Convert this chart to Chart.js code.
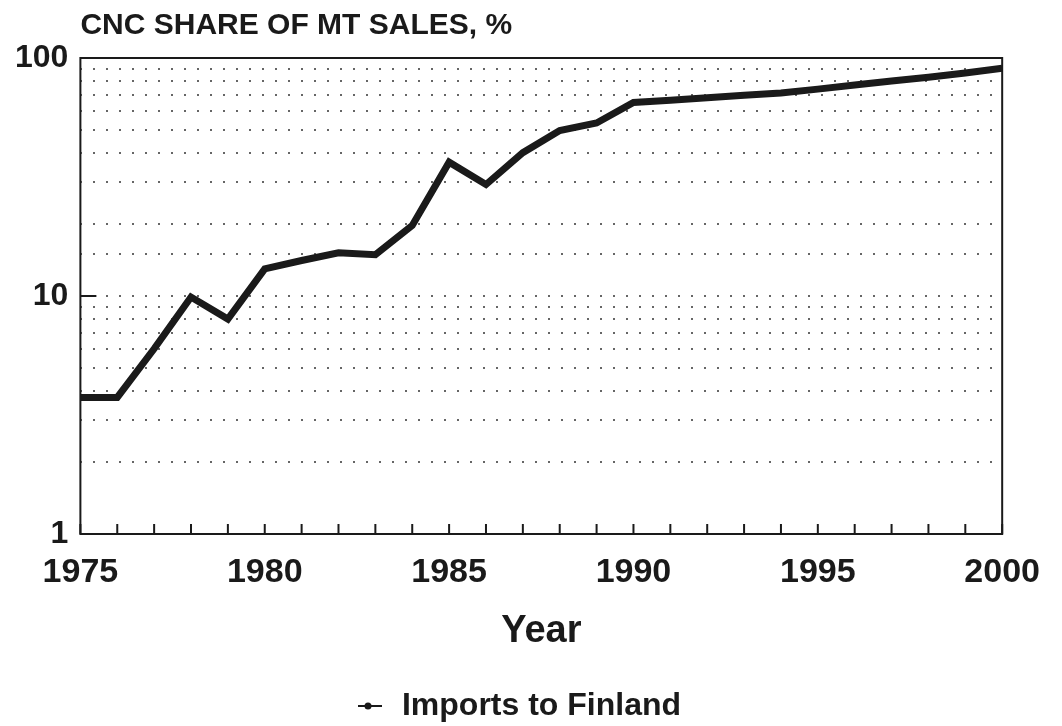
<!DOCTYPE html>
<html>
<head>
<meta charset="utf-8">
<script src="https://cdn.jsdelivr.net/npm/chart.js@4/dist/chart.umd.min.js"></script>
<style>
  html, body { margin: 0; padding: 0; background: #fff; }
  #wrap { width: 1062px; height: 726px; }
</style>
</head>
<body>
<div id="wrap"><canvas id="myChart"></canvas></div>
<script>
const years = [1975, 1976, 1977, 1978, 1979, 1980, 1981, 1982, 1983, 1984, 1985, 1986, 1987,
  1988, 1989, 1990, 1991, 1992, 1993, 1994, 1995, 1996, 1997, 1998, 1999, 2000];
const cncShare = [3.75, 3.75, 6.0, 9.9, 8.0, 13.0, 14.1, 15.2, 14.9, 19.8, 36.5, 29.4, 40,
  49.6, 53.3, 65, 66.4, 68, 69.7, 71.3, 74, 77, 80, 83, 86.5, 90.5];
const yLabels = [1, 10, 100];
const chartTitle = "CNC SHARE OF MT SALES, %";
const seriesName = "Imports to Finland";

const FONT = "'Liberation Sans', Arial, Helvetica, sans-serif";
const INK = "#1a1a1a";

// legend marker: short line with a dot
const marker = document.createElement("canvas");
marker.width = 24;
marker.height = 12;
const mctx = marker.getContext("2d");
mctx.strokeStyle = INK;
mctx.lineWidth = 2;
mctx.beginPath();
mctx.moveTo(0, 6);
mctx.lineTo(24, 6);
mctx.stroke();
mctx.fillStyle = INK;
mctx.beginPath();
mctx.arc(10, 6, 3.5, 0, Math.PI * 2);
mctx.fill();

// box frame, inner tick marks and the title
const framePlugin = {
  id: "frame",
  afterDraw(chart) {
    const { ctx, chartArea: a, scales } = chart;
    ctx.save();
    ctx.strokeStyle = INK;
    ctx.lineWidth = 2;
    ctx.strokeRect(a.left, a.top, a.right - a.left, a.bottom - a.top);
    // year ticks pointing up into the plot
    ctx.beginPath();
    scales.x.ticks.forEach((t) => {
      const px = scales.x.getPixelForValue(t.value);
      ctx.moveTo(px, a.bottom);
      ctx.lineTo(px, a.bottom - 10);
    });
    // tick at 10 on the y axis
    const py = scales.y.getPixelForValue(10);
    ctx.moveTo(a.left, py);
    ctx.lineTo(a.left + 16, py);
    ctx.stroke();
    // title
    ctx.fillStyle = INK;
    ctx.font = "bold 30px " + FONT;
    ctx.textBaseline = "middle";
    ctx.textAlign = "left";
    ctx.fillText(chartTitle, a.left, 26);
    ctx.restore();
  },
};

const cht = document.getElementById("myChart");

const chart = new Chart(cht, {
  type: "line",
  data: {
    datasets: [
      {
        label: seriesName,
        data: years.map((y, i) => ({ x: y, y: cncShare[i] })),
        borderColor: INK,
        backgroundColor: INK,
        borderWidth: 7,
        pointRadius: 0,
        pointStyle: marker,
        tension: 0,
        borderJoinStyle: "miter",
      },
    ],
  },
  options: {
    responsive: true,
    maintainAspectRatio: false,
    animation: false,
    layout: {
      padding: { top: 58, right: 30, bottom: -6, left: 3 },
    },
    scales: {
      x: {
        type: "linear",
        min: 1975,
        max: 2000,
        grid: { display: false, drawTicks: false },
        border: { display: false },
        ticks: {
          stepSize: 1,
          autoSkip: false,
          maxRotation: 0,
          padding: 22,
          color: INK,
          font: { family: FONT, size: 34, weight: "bold", lineHeight: 1 },
          callback: (v) => (v % 5 === 0 ? String(v) : ""),
        },
        title: {
          display: true,
          text: "Year",
          color: INK,
          font: { family: FONT, size: 38, weight: "bold", lineHeight: 1 },
          padding: { top: 1, bottom: 37 },
        },
      },
      y: {
        type: "logarithmic",
        min: 1,
        max: 100,
        grid: {
          drawTicks: false,
          lineWidth: 2,
          color: (c) => (c.tick && (c.tick.value === 1 || c.tick.value === 100) ? "rgba(0,0,0,0)" : "#666"),
        },
        border: { display: false, dash: [2, 11] },
        ticks: {
          autoSkip: false,
          padding: 12,
          color: INK,
          font: { family: FONT, size: 32, weight: "bold" },
          callback: (v) => (yLabels.includes(v) ? String(v) : ""),
        },
      },
    },
    plugins: {
      legend: {
        position: "bottom",
        labels: {
          usePointStyle: true,
          padding: 2,
          color: INK,
          font: { family: FONT, size: 32, weight: "bold" },
        },
      },
      tooltip: { enabled: false },
    },
  },
  plugins: [framePlugin],
});
</script>
</body>
</html>
